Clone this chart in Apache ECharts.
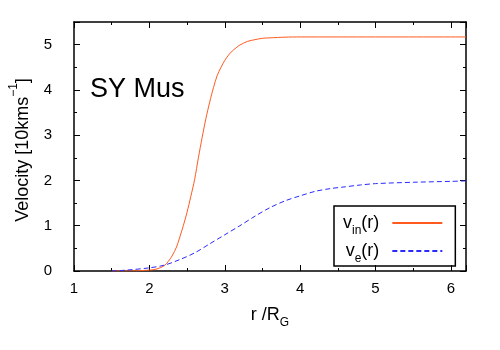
<!DOCTYPE html>
<html>
<head>
<meta charset="utf-8">
<script src="https://cdn.jsdelivr.net/npm/echarts@6/dist/echarts.min.js"></script>
<style>html,body{margin:0;padding:0;background:#fff}#c{width:500px;height:350px}</style>
</head>
<body>
<div id="c"></div>
<script>
const xTicks = [1, 2, 3, 4, 5, 6];
const yTicks = [0, 1, 2, 3, 4, 5];
const rIn = [1.5, 1.8, 2.0, 2.1, 2.2, 2.25, 2.3, 2.36, 2.4, 2.45, 2.5, 2.55, 2.6, 2.65, 2.7, 2.75, 2.8, 2.85, 2.9, 2.95, 3.0, 3.05, 3.1, 3.15, 3.2, 3.3, 3.4, 3.5, 3.6, 3.8, 4.0, 5.0, 6.2];
const vIn = [0, 0.005, 0.02, 0.045, 0.12, 0.21, 0.33, 0.53, 0.73, 1.0, 1.3, 1.65, 2.02, 2.5, 2.95, 3.37, 3.73, 4.05, 4.32, 4.5, 4.65, 4.77, 4.86, 4.93, 4.99, 5.07, 5.11, 5.14, 5.15, 5.165, 5.17, 5.17, 5.17];
const rE = [1.5, 1.7, 2.0, 2.2, 2.4, 2.6, 2.8, 3.0, 3.2, 3.4, 3.6, 3.8, 4.0, 4.2, 4.4, 4.6, 4.8, 5.0, 5.5, 6.0, 6.2];
const vE = [0.0, 0.02, 0.07, 0.13, 0.25, 0.40, 0.60, 0.80, 1.0, 1.21, 1.40, 1.55, 1.66, 1.76, 1.82, 1.86, 1.90, 1.93, 1.96, 1.98, 1.99];

const font = 'Liberation Sans';
const chart = echarts.init(document.getElementById('c'));
const tickCommon = {inside: true, length: 6, lineStyle: {color: '#000', width: 1}};
const minorCommon = {show: true, splitNumber: 2, length: 3, lineStyle: {color: '#000', width: 1}};
const lineCommon = {show: true, onZero: false, lineStyle: {color: '#000', width: 1.5}};
const subRich = {
  m: {fontSize: 18, fontFamily: font, color: '#000'},
  s: {fontSize: 12, fontFamily: font, color: '#000', verticalAlign: 'bottom', padding: [0, 0, -5, 0]}
};
const legRich = {
  m: {fontSize: 18, fontFamily: font, color: '#000'},
  s: {fontSize: 12, fontFamily: font, color: '#000', verticalAlign: 'bottom', padding: [0, 0, -5, 0]},
  g: {width: 8, fontSize: 10}
};
const fmt = (list) => (v) => list.some(t => Math.abs(t - v) < 1e-9) ? String(v) : '';

chart.setOption({
  animation: false,
  backgroundColor: '#fff',
  textStyle: {fontFamily: font},
  title: {text: 'SY Mus', left: 90, top: 76, padding: 0, textStyle: {fontFamily: font, fontSize: 27, fontWeight: 'normal', color: '#000'}},
  grid: {left: 69, right: 34, top: 22, bottom: 79},
  legend: {
    orient: 'vertical', left: 334, top: 206, align: 'right',
    borderColor: '#000', borderWidth: 1.5, borderRadius: 0,
    padding: [8, 12, 1, 9], itemGap: 5, itemWidth: 50, itemHeight: 14,
    itemStyle: {opacity: 0},
    data: [{name: 'vin'}, {name: 've'}],
    formatter: function (n) { return n === 'vin' ? '{m|v}{s|in}{m|(r)}{g| }' : '{m|v}{s|e}{m|(r)}{g| }'; },
    textStyle: {fontFamily: font, color: '#000', rich: legRich}
  },
  xAxis: [{
    type: 'value', min: 1, max: 6.2, interval: 1,
    name: '{m|r /R}{s|G}', nameLocation: 'middle', nameGap: 35,
    nameTextStyle: {rich: subRich},
    axisLine: lineCommon, axisTick: tickCommon, minorTick: minorCommon,
    axisLabel: {showMaxLabel: false, formatter: fmt(xTicks), fontSize: 15, color: '#000', margin: 10, fontFamily: font},
    splitLine: {show: false}
  }, {
    type: 'value', min: 1, max: 6.2, interval: 1, position: 'top',
    axisLine: lineCommon, axisTick: tickCommon, minorTick: minorCommon,
    axisLabel: {show: false}, splitLine: {show: false}
  }],
  yAxis: [{
    type: 'value', min: 0, max: 5.5, interval: 1,
    name: '{m|Velocity [10kms}{p|−1}{m|]}', nameLocation: 'middle', nameGap: 42,
    nameTextStyle: {padding: [0, 7, 0, 0], rich: {m: {fontSize: 18, fontFamily: font, color: '#000'}, p: {fontSize: 12, fontFamily: font, color: '#000', verticalAlign: 'top', padding: [-6, 0, 0, 0]}}},
    axisLine: lineCommon, axisTick: tickCommon, minorTick: minorCommon,
    axisLabel: {showMaxLabel: false, formatter: fmt(yTicks), fontSize: 15, color: '#000', margin: 22, fontFamily: font},
    splitLine: {show: false}
  }, {
    type: 'value', min: 0, max: 5.5, interval: 1, position: 'right',
    axisLine: lineCommon, axisTick: tickCommon, minorTick: minorCommon,
    axisLabel: {show: false}, splitLine: {show: false}
  }],
  series: [{
    name: 'vin', type: 'line', symbol: 'none', smooth: 0.3,
    data: rIn.map((r, i) => [r, vIn[i]]),
    lineStyle: {color: '#ff5a1f', width: 1}, itemStyle: {color: '#ff5a1f'}
  }, {
    name: 've', type: 'line', symbol: 'none', smooth: 0.3,
    data: rE.map((r, i) => [r, vE[i]]),
    lineStyle: {color: '#2a2aff', width: 1, type: [5, 3]}, itemStyle: {color: '#2a2aff'}
  }]
});
</script>
</body>
</html>
